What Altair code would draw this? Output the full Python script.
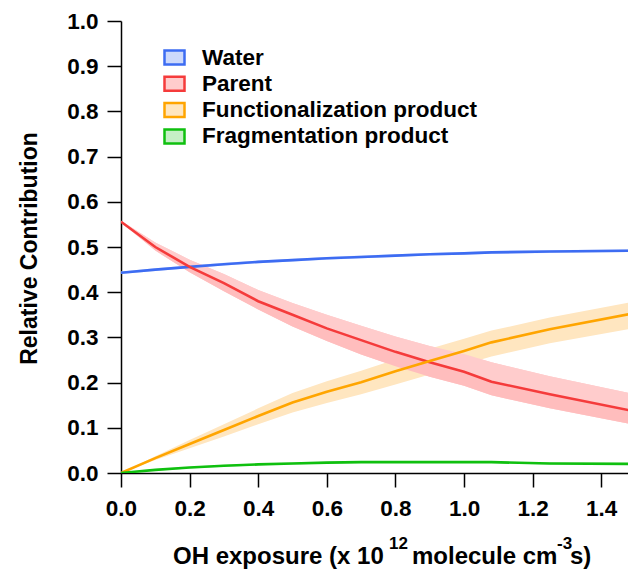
import altair as alt
import pandas as pd

# ---- data ----
x_vals = [0.0, 0.1, 0.2, 0.3, 0.4, 0.5, 0.6, 0.7, 0.8, 0.9, 1.0, 1.08, 1.25, 1.5]

water = [0.443, 0.450, 0.456, 0.462, 0.467, 0.471, 0.475, 0.478, 0.481, 0.484, 0.486, 0.488, 0.490, 0.492]
water_lo = [0.440, 0.447, 0.453, 0.459, 0.464, 0.468, 0.472, 0.475, 0.478, 0.481, 0.483, 0.485, 0.487, 0.489]
water_hi = [0.446, 0.453, 0.459, 0.465, 0.470, 0.474, 0.478, 0.481, 0.484, 0.487, 0.489, 0.491, 0.493, 0.495]

parent = [0.556, 0.500, 0.456, 0.420, 0.380, 0.350, 0.320, 0.294, 0.268, 0.245, 0.224, 0.202, 0.174, 0.136]
parent_lo = [0.554, 0.492, 0.444, 0.402, 0.362, 0.324, 0.292, 0.262, 0.236, 0.213, 0.193, 0.172, 0.143, 0.106]
parent_hi = [0.558, 0.510, 0.472, 0.440, 0.405, 0.376, 0.350, 0.326, 0.302, 0.281, 0.263, 0.245, 0.214, 0.174]

func = [0.000, 0.033, 0.064, 0.095, 0.126, 0.156, 0.180, 0.201, 0.225, 0.248, 0.270, 0.289, 0.318, 0.354]
func_lo = [0.000, 0.029, 0.055, 0.081, 0.108, 0.134, 0.155, 0.174, 0.196, 0.218, 0.240, 0.258, 0.287, 0.321]
func_hi = [0.000, 0.037, 0.073, 0.108, 0.143, 0.177, 0.203, 0.226, 0.251, 0.275, 0.297, 0.315, 0.344, 0.380]

frag = [0.000, 0.007, 0.012, 0.016, 0.019, 0.021, 0.023, 0.024, 0.024, 0.024, 0.024, 0.024, 0.021, 0.020]
frag_lo = [0.000, 0.005, 0.010, 0.014, 0.017, 0.019, 0.021, 0.022, 0.022, 0.022, 0.022, 0.022, 0.019, 0.018]
frag_hi = [0.000, 0.009, 0.014, 0.018, 0.021, 0.023, 0.025, 0.026, 0.026, 0.026, 0.026, 0.026, 0.023, 0.022]

series_names = ["Water", "Parent", "Functionalization product", "Fragmentation product"]
line_colors = ["#3d6cf2", "#f53b3b", "#ffa500", "#0fc00f"]
fill_colors = ["#cdd9fb", "#ffcccc", "#ffe6c0", "#c6efc6"]

x_ticks = [0.0, 0.2, 0.4, 0.6, 0.8, 1.0, 1.2, 1.4]
y_ticks = [0.0, 0.1, 0.2, 0.3, 0.4, 0.5, 0.6, 0.7, 0.8, 0.9, 1.0]
X_MAX = 1.478

rows = []
for name, ys, los, his in [
    ("Water", water, water_lo, water_hi),
    ("Parent", parent, parent_lo, parent_hi),
    ("Functionalization product", func, func_lo, func_hi),
    ("Fragmentation product", frag, frag_lo, frag_hi),
]:
    for xv, yv, lo, hi in zip(x_vals, ys, los, his):
        rows.append({"series": name, "x": xv, "y": yv, "lo": lo, "hi": hi})
df = pd.DataFrame(rows)

FONT = "Liberation Sans"

x_enc = alt.X(
    "x:Q",
    scale=alt.Scale(domain=[0, X_MAX], nice=False, zero=False),
    axis=alt.Axis(
        values=x_ticks, format=".1f", title=None, tickSize=14, labelPadding=10,
        labelFlush=False, grid=False,
    ),
)
y_axis = alt.Axis(
    values=y_ticks, format=".1f", title="Relative Contribution", tickSize=14,
    labelPadding=9, titleX=-92, titleY=227, titleAngle=270, titleBaseline="middle",
    titleAlign="center", titleFontSize=23, titleFontWeight="bold", titleFont=FONT,
    titleColor="black", grid=False,
)
y_scale = alt.Scale(domain=[0, 1], nice=False)

legend = alt.Legend(
    orient="none", legendX=42, legendY=25, title=None,
    symbolType="M-1,-0.7H1V0.7H-1Z", symbolSize=400, symbolStrokeWidth=2.5,
    labelFontSize=22.5, labelFontWeight="bold", labelFont=FONT, labelColor="black",
    labelOffset=16, labelLimit=600, rowPadding=1.3, padding=0, symbolOpacity=1,
)

base = alt.Chart(df)

bands = base.mark_area(clip=True).encode(
    x=x_enc,
    y=alt.Y("lo:Q", scale=y_scale, axis=y_axis, stack=None),
    y2="hi:Q",
    fill=alt.Fill("series:N", scale=alt.Scale(domain=series_names, range=fill_colors), legend=legend),
)

parent_df = df[df["series"] == "Parent"]
red_upper = alt.Chart(parent_df).mark_area(clip=True, color="#ffcccc").encode(
    x="x:Q", y=alt.Y("y:Q", stack=None), y2="hi:Q"
)
red_lower = alt.Chart(parent_df).mark_area(clip=True, color="#ffbdbd").encode(
    x="x:Q", y=alt.Y("lo:Q", stack=None), y2="y:Q"
)

lines = base.mark_line(clip=True, strokeWidth=2.6).encode(
    x="x:Q",
    y="y:Q",
    stroke=alt.Stroke("series:N", scale=alt.Scale(domain=series_names, range=line_colors), legend=legend),
)

one = pd.DataFrame({"k": [0]})


def txt(s, px, py, size):
    return alt.Chart(one).mark_text(
        text=s, align="left", baseline="alphabetic", fontSize=size,
        fontWeight="bold", font=FONT, color="black",
    ).encode(x=alt.value(px), y=alt.value(py))


title_parts = [
    txt("OH exposure (x 10", 52, 543, 24),
    txt("12", 268, 528, 17),
    txt("molecule cm", 291, 543, 24),
    txt("-3", 436, 528, 17),
    txt("s)", 449, 543, 24),
]

chart = alt.layer(bands, red_upper, red_lower, lines, *title_parts).properties(
    width=507, height=452,
    autosize=alt.AutoSizeParams(type="none"),
    padding={"left": 113, "top": 13, "right": 0, "bottom": 96},
).configure(font=FONT).configure_view(stroke=None).configure_axis(
    grid=False, domainColor="black", domainWidth=1.5, tickColor="black", tickWidth=1.5,
    labelColor="black", labelFont=FONT, labelFontSize=22.5, labelFontWeight="bold",
).configure_axisX(tickSize=14, labelPadding=10).configure_axisY(tickSize=14, labelPadding=9)

chart.save("out.html", embed_options={"renderer": "svg", "actions": False})
